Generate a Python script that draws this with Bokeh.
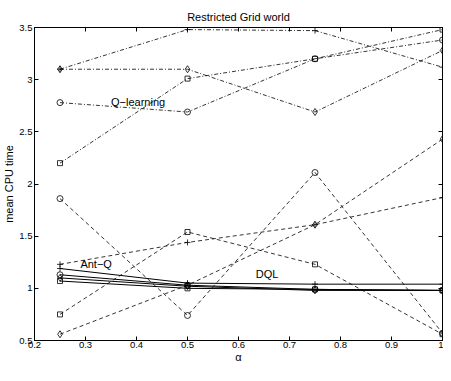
from bokeh.plotting import figure
from bokeh.models import Range1d, FixedTicker, LinearAxis, Label
from bokeh.embed import file_html
from bokeh.resources import INLINE

# ---- data ----
alpha = [0.25, 0.5, 0.75, 1.0]

q_plus = [3.10, 3.48, 3.47, 3.12]
q_circle = [2.78, 2.69, 3.20, 3.38]
q_diamond = [3.10, 3.10, 2.69, 3.28]
q_square = [2.20, 3.01, 3.20, 3.48]

ant_plus = [1.23, 1.44, 1.61, 1.87]
ant_circle = [1.86, 0.74, 2.11, 0.57]
ant_diamond = [0.56, 1.03, 1.61, 2.43]
ant_square = [0.75, 1.54, 1.23, 0.56]

dql_plus = [1.19, 1.05, 1.04, 1.04]
dql_circle = [1.13, 1.03, 0.99, 0.98]
dql_diamond = [1.10, 1.02, 0.98, 0.98]
dql_square = [1.07, 1.00, 0.99, 0.98]

x_ticks = [0.2, 0.3, 0.4, 0.5, 0.6, 0.7, 0.8, 0.9, 1.0]
x_tick_labels = ["0.2", "0.3", "0.4", "0.5", "0.6", "0.7", "0.8", "0.9", "1"]
y_ticks = [0.5, 1.0, 1.5, 2.0, 2.5, 3.0, 3.5]
y_tick_labels = ["0.5", "1", "1.5", "2", "2.5", "3", "3.5"]

FONT = "Liberation Sans"

p = figure(width=443, height=365, output_backend="svg", toolbar_location=None,
           x_range=Range1d(0.2, 1.0), y_range=Range1d(0.5, 3.5),
           title="Restricted Grid world",
           min_border_left=31, min_border_right=1, min_border_top=27, min_border_bottom=0)

p.title.align = "center"
p.title.text_font = FONT
p.title.text_font_size = "11px"
p.title.text_font_style = "normal"
p.title.text_color = "black"
p.title.standoff = 9
p.title.offset = 0

p.grid.visible = False
p.background_fill_color = "white"
p.border_fill_color = "white"
p.outline_line_color = "black"
p.outline_line_width = 1

def style_axis(ax, ticks, labels, show_labels):
    ax.ticker = FixedTicker(ticks=ticks)
    ax.major_tick_in = 4
    ax.major_tick_out = 0
    ax.minor_tick_in = 0
    ax.minor_tick_out = 0
    ax.axis_line_color = "black"
    ax.major_tick_line_color = "black"
    ax.major_label_text_font = FONT
    ax.major_label_text_color = "black"
    ax.axis_label_text_font = FONT
    ax.axis_label_text_font_style = "normal"
    ax.axis_label_text_color = "black"
    if show_labels:
        ax.major_label_overrides = {t: l for t, l in zip(ticks, labels)}
        ax.major_label_text_font_size = "9.5px"
        ax.major_label_standoff = 2
        ax.axis_label_text_font_size = "11px"
        ax.axis_label_standoff = 1
    else:
        ax.major_label_overrides = {t: "" for t in ticks}
        ax.major_label_text_font_size = "1px"
        ax.major_label_standoff = 0

style_axis(p.xaxis[0], x_ticks, x_tick_labels, True)
style_axis(p.yaxis[0], y_ticks, y_tick_labels, True)
p.xaxis[0].axis_label = "α"
p.yaxis[0].axis_label = "mean CPU time"
p.xaxis[0].major_label_standoff = 1
p.xaxis[0].axis_label_standoff = 0

top = LinearAxis()
style_axis(top, x_ticks, x_tick_labels, False)
p.add_layout(top, "above")
right = LinearAxis()
style_axis(right, y_ticks, y_tick_labels, False)
p.add_layout(right, "right")

def series(vals, dash, marker, lw, size=6):
    p.line(alpha, vals, line_color="black", line_width=lw, line_dash=dash)
    p.scatter(alpha, vals, marker=marker, size=size, line_color="black",
              fill_color=None, line_width=0.8)

DASHDOT = "4 2 1 2"
DASHED = "4 3"

series(q_plus, DASHDOT, "cross", 0.8)
series(q_circle, DASHDOT, "circle", 0.8)
series(q_diamond, DASHDOT, "diamond", 0.8, 7)
series(q_square, DASHDOT, "square", 0.8, 5)

series(ant_plus, DASHED, "cross", 0.8)
series(ant_circle, DASHED, "circle", 0.8)
series(ant_diamond, DASHED, "diamond", 0.8, 7)
series(ant_square, DASHED, "square", 0.8, 5)

series(dql_plus, "solid", "cross", 1.0)
series(dql_circle, "solid", "circle", 1.0)
series(dql_diamond, "solid", "diamond", 1.0, 7)
series(dql_square, "solid", "square", 1.0, 5)

for x, y, t in [(0.35, 2.785, "Q\u2212learning"), (0.29, 1.235, "Ant\u2212Q"), (0.634, 1.135, "DQL")]:
    p.add_layout(Label(x=x, y=y, text=t, text_font=FONT, text_font_size="11px",
                       text_baseline="middle", text_align="left", text_color="black"))

open("out.html", "w").write(file_html(p, INLINE))
